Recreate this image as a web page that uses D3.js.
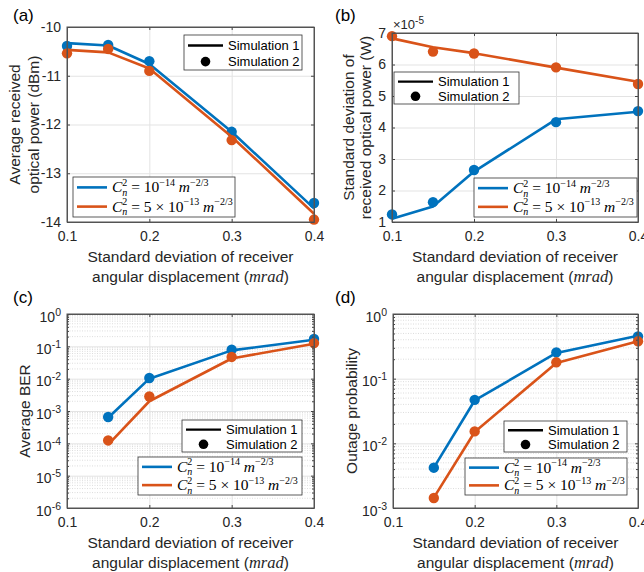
<!DOCTYPE html>
<html>
<head>
<meta charset="utf-8">
<script src="https://cdn.jsdelivr.net/npm/d3@7"></script>
<style>
    body { margin: 0; background: #fff; }
    svg { display: block; }
    .tick text { font-family: "Liberation Sans", Arial, sans-serif; font-size: 14px; fill: #262626; }
    .lbl { font-family: "Liberation Sans", Arial, sans-serif; fill: #262626; }
</style>
</head>
<body>
<svg id="fig" width="644" height="572"></svg>
<script>
// x values: standard deviation of receiver angular displacement (mrad)
const displacement = [0.1, 0.15, 0.2, 0.3, 0.4];
const displacementLog = [0.15, 0.2, 0.3, 0.4];
const xTickValues = [0.1, 0.2, 0.3, 0.4];

// (a) average received optical power (dBm)
const powerWeakSim1 = [-10.33, -10.38, -10.76, -12.15, -13.72];
const powerWeakSim2 = [-10.39, -10.37, -10.70, -12.15, -13.61];
const powerStrongSim1 = [-10.47, -10.52, -10.85, -12.25, -13.83];
const powerStrongSim2 = [-10.54, -10.45, -10.90, -12.32, -13.95];
const powerTicks = [-14, -13, -12, -11, -10];

// (b) standard deviation of received optical power (x1e-5 W)
const stdWeakSim1 = [1.10, 1.49, 2.60, 4.26, 4.50];
const stdWeakSim2 = [1.24, 1.63, 2.65, 4.17, 4.52];
const stdStrongSim1 = [6.83, 6.55, 6.36, 5.90, 5.45];
const stdStrongSim2 = [6.90, 6.41, 6.35, 5.91, 5.38];
const stdTicks = [1, 2, 3, 4, 5, 6, 7];

// (c) average BER
const berWeakSim1 = [6.2e-4, 1.0e-2, 7.5e-2, 0.16];
const berWeakSim2 = [6.5e-4, 1.05e-2, 7.9e-2, 0.17];
const berStrongSim1 = [9.1e-5, 2.0e-3, 4.2e-2, 0.12];
const berStrongSim2 = [1.23e-4, 2.8e-3, 4.7e-2, 0.126];
const berExponents = [-6, -5, -4, -3, -2, -1, 0];

// (d) outage probability
const outWeakSim1 = [4.2e-3, 4.6e-2, 0.25, 0.46];
const outWeakSim2 = [4.2e-3, 4.7e-2, 0.255, 0.45];
const outStrongSim1 = [1.45e-3, 1.5e-2, 0.175, 0.38];
const outStrongSim2 = [1.43e-3, 1.53e-2, 0.179, 0.378];
const outExponents = [-3, -2, -1, 0];

const colors = { weak: '#0072BD', strong: '#D95319' };
const sansFont = '"Liberation Sans", Arial, sans-serif';
const mathFont = '"Liberation Serif", "Times New Roman", serif';

const svg = d3.select("#fig");

// write a run of text pieces left to right; pieces with stack:true share x with the previous one
function mathText(g, x0, y0, parts) {
    let cursor = x0, lastStart = x0, lastEnd = x0;
    parts.forEach(p => {
        const start = p.stack ? lastStart : cursor;
        const t = g.append("text")
            .attr("x", start)
            .attr("y", y0 + (p.dy || 0))
            .style("font-family", mathFont)
            .style("font-size", (p.size || 15.5) + "px")
            .style("font-style", p.italic ? "italic" : "normal")
            .style("fill", "#000")
            .attr("xml:space", "preserve")
            .text(p.t);
        const w = t.node().getComputedTextLength();
        const end = start + w;
        if (p.stack) {
            cursor = Math.max(lastEnd, end);
        } else {
            lastStart = start;
            cursor = end;
        }
        lastEnd = cursor;
    });
}

function cnParts(prefix, exp) {
    return [
        { t: "C", italic: true },
        { t: "2", size: 10, dy: -6.5 },
        { t: "n", italic: true, size: 10, dy: 3.5, stack: true },
        { t: " = " + prefix + "10" },
        { t: exp, size: 10, dy: -6.5 },
        { t: " " },
        { t: "m", italic: true },
        { t: "\u22122/3", size: 10, dy: -6.5 }
    ];
}

function drawPanel(p) {
    const g = svg.append("g");
    const x = d3.scaleLinear().domain([0.1, 0.4]).range([p.l, p.r]);
    const y = (p.log ? d3.scaleLog() : d3.scaleLinear()).domain(p.yDomain).range([p.b, p.t]);
    const h = p.b - p.t, w = p.r - p.l;

    // minor grid (log panels)
    if (p.log) {
        const minor = y.ticks().filter(v => Math.abs(Math.log10(v) - Math.round(Math.log10(v))) > 1e-6);
        g.append("g").selectAll("line").data(minor).enter().append("line")
            .attr("x1", p.l).attr("x2", p.r)
            .attr("y1", d => y(d)).attr("y2", d => y(d))
            .attr("stroke", "#d4d4d4").attr("stroke-width", 0.8)
            .attr("stroke-dasharray", "1,1.5");
    }
    const majorY = p.log ? p.yTicks.map(e => Math.pow(10, e)) : p.yTicks;

    // major grid
    g.append("g")
        .attr("transform", `translate(0,${p.b})`)
        .call(d3.axisBottom(x).tickValues(xTickValues).tickSize(-h).tickFormat(""))
        .call(s => s.select(".domain").remove())
        .selectAll("line").attr("stroke", "#e3e3e3");
    g.append("g")
        .attr("transform", `translate(${p.l},0)`)
        .call(d3.axisLeft(y).tickValues(majorY).tickSize(-w).tickFormat(""))
        .call(s => s.select(".domain").remove())
        .selectAll("line").attr("stroke", "#e3e3e3");

    // data lines then markers
    p.series.forEach(s => {
        const line = d3.line().x((d, i) => x(s.x[i])).y(d => y(d));
        g.append("path")
            .datum(s.line)
            .attr("fill", "none")
            .attr("stroke", s.color)
            .attr("stroke-width", 2.6)
            .attr("stroke-linejoin", "round")
            .attr("d", line);
        g.append("g").selectAll("circle")
            .data(s.marks)
            .enter()
            .append("circle")
            .attr("cx", (d, i) => x(s.x[i]))
            .attr("cy", d => y(d))
            .attr("r", 5.2)
            .attr("fill", s.color);
    });

    // axes, ticks pointing inward on all four sides
    const tk = 3;
    const xb = g.append("g").attr("transform", `translate(0,${p.b})`)
        .call(d3.axisBottom(x).tickValues(xTickValues).tickSizeInner(-tk).tickSizeOuter(0).tickPadding(8)
            .tickFormat(d3.format(".1f")));
    xb.selectAll("text").attr("dy", "0.71em").attr("y", 9);
    g.append("g").attr("transform", `translate(0,${p.t})`)
        .call(d3.axisTop(x).tickValues(xTickValues).tickSizeInner(-tk).tickSizeOuter(0).tickFormat(""));

    const yAxisL = d3.axisLeft(y).tickValues(majorY).tickSizeInner(-tk).tickSizeOuter(0).tickPadding(6);
    const yAxisR = d3.axisRight(y).tickValues(majorY).tickSizeInner(-tk).tickSizeOuter(0).tickFormat("");
    if (p.log) yAxisL.tickFormat("");
    else yAxisL.tickFormat(d => String(d));
    const yl = g.append("g").attr("transform", `translate(${p.l},0)`).call(yAxisL);
    g.append("g").attr("transform", `translate(${p.r},0)`).call(yAxisR);

    if (p.log) {
        // minor ticks
        const minor = y.ticks().filter(v => Math.abs(Math.log10(v) - Math.round(Math.log10(v))) > 1e-6);
        g.append("g").attr("transform", `translate(${p.l},0)`)
            .call(d3.axisLeft(y).tickValues(minor).tickSizeInner(-2).tickSizeOuter(0).tickFormat(""))
            .call(s => s.select(".domain").remove());
        g.append("g").attr("transform", `translate(${p.r},0)`)
            .call(d3.axisRight(y).tickValues(minor).tickSizeInner(-2).tickSizeOuter(0).tickFormat(""))
            .call(s => s.select(".domain").remove());
        // 10^k labels
        yl.selectAll(".tick").each(function(d) {
            const t = d3.select(this).select("text")
                .attr("x", -6).attr("dy", "0.5em");
            t.append("tspan").text("10");
            t.append("tspan").attr("dy", "-0.55em").style("font-size", "10.5px")
                .text(String(Math.round(Math.log10(d))));
        });
    }

    g.selectAll(".domain").attr("stroke", "#555").attr("stroke-width", 1);
    g.selectAll(".tick line").filter(function() { return !this.getAttribute("stroke") || this.getAttribute("stroke") === "currentColor"; })
        .attr("stroke", "#444");

    // box outline
    g.append("rect")
        .attr("x", p.l).attr("y", p.t).attr("width", w).attr("height", h)
        .attr("fill", "none").attr("stroke", "#555").attr("stroke-width", 1);

    // x label (two lines)
    g.append("text").attr("class", "lbl")
        .attr("x", (p.l + p.r) / 2).attr("y", p.b + 40)
        .attr("text-anchor", "middle").style("font-size", "15.5px")
        .text("Standard deviation of receiver");
    const xl2 = g.append("text").attr("class", "lbl")
        .attr("x", (p.l + p.r) / 2).attr("y", p.b + 60)
        .attr("text-anchor", "middle").style("font-size", "15.5px");
    xl2.append("tspan").text("angular displacement (");
    xl2.append("tspan").style("font-family", mathFont).style("font-style", "italic").style("font-size", "16.5px").text("mrad");
    xl2.append("tspan").text(")");

    // y label
    p.yLabel.forEach((txt, i) => {
        g.append("text").attr("class", "lbl")
            .attr("transform", `translate(${p.yLabelX[i]},${(p.t + p.b) / 2}) rotate(-90)`)
            .attr("text-anchor", "middle").attr("dy", "0.35em")
            .style("font-size", "15.5px")
            .text(txt);
    });

    // panel tag
    svg.append("text").attr("class", "lbl")
        .attr("x", p.tag.x).attr("y", p.tag.y)
        .style("font-size", "17px").style("fill", "#000")
        .text(p.tag.t);

    // legend: simulation types
    const sl = p.simLegend;
    const sg = g.append("g").attr("transform", `translate(${sl.x},${sl.y})`);
    sg.append("rect").attr("width", sl.w).attr("height", sl.h)
        .attr("fill", "#fff").attr("stroke", "#333").attr("stroke-width", 0.8);
    const r1 = sl.h * 0.3, r2 = sl.h * 0.76;
    sg.append("line").attr("x1", 4).attr("x2", 39).attr("y1", r1).attr("y2", r1)
        .attr("stroke", "#000").attr("stroke-width", 2.4);
    sg.append("circle").attr("cx", 21.5).attr("cy", r2).attr("r", 4.8).attr("fill", "#000");
    ["Simulation 1", "Simulation 2"].forEach((t, i) => {
        sg.append("text").attr("class", "lbl")
            .attr("x", 44).attr("y", (i ? r2 : r1) + 4.6)
            .style("font-size", "13px").style("fill", "#000")
            .text(t);
    });

    // legend: turbulence strength
    const cl = p.cnLegend;
    const cg = g.append("g").attr("transform", `translate(${cl.x},${cl.y})`);
    cg.append("rect").attr("width", cl.w).attr("height", cl.h)
        .attr("fill", "#fff").attr("stroke", "#333").attr("stroke-width", 0.8);
    const c1 = cl.h * 0.26, c2 = cl.h * 0.74;
    cg.append("line").attr("x1", 4).attr("x2", 34).attr("y1", c1).attr("y2", c1)
        .attr("stroke", colors.weak).attr("stroke-width", 2.6);
    cg.append("line").attr("x1", 4).attr("x2", 34).attr("y1", c2).attr("y2", c2)
        .attr("stroke", colors.strong).attr("stroke-width", 2.6);
    mathText(cg, 39, c1 + 5, cnParts("", "\u221214"));
    mathText(cg, 39, c2 + 5, cnParts("5 \u00d7 ", "\u221213"));

    return { g, x, y };
}

function seriesSet(xs, w1, w2, s1, s2) {
    return [
        { x: xs, line: w1, marks: w2, color: colors.weak },
        { x: xs, line: s1, marks: s2, color: colors.strong }
    ];
}

drawPanel({
    l: 67, t: 27, r: 314, b: 222,
    yDomain: [-14, -10], yTicks: powerTicks,
    series: seriesSet(displacement, powerWeakSim1, powerWeakSim2, powerStrongSim1, powerStrongSim2),
    yLabel: ["Average received", "optical power (dBm)"], yLabelX: [15, 34],
    tag: { t: "(a)", x: 13, y: 21 },
    simLegend: { x: 184, y: 35, w: 118, h: 35 },
    cnLegend: { x: 73, y: 177, w: 162, h: 40 }
});

const pb = drawPanel({
    l: 392, t: 33, r: 638, b: 222,
    yDomain: [1, 7], yTicks: stdTicks,
    series: seriesSet(displacement, stdWeakSim1, stdWeakSim2, stdStrongSim1, stdStrongSim2),
    yLabel: ["Standard deviation of", "received optical power (W)"], yLabelX: [349, 366],
    tag: { t: "(b)", x: 335, y: 21 },
    simLegend: { x: 394, y: 72, w: 125, h: 32 },
    cnLegend: { x: 474, y: 178, w: 163, h: 39 }
});
// exponent multiplier above panel (b)
const mult = pb.g.append("text").attr("class", "lbl")
    .attr("x", 393).attr("y", 29).style("font-size", "13px");
mult.append("tspan").text("\u00d710");
mult.append("tspan").attr("dy", "-0.5em").style("font-size", "10px").text("-5");

drawPanel({
    l: 67, t: 314, r: 314, b: 508, log: true,
    yDomain: [1e-6, 1], yTicks: berExponents,
    series: seriesSet(displacementLog, berWeakSim1, berWeakSim2, berStrongSim1, berStrongSim2),
    yLabel: ["Average BER"], yLabelX: [25],
    tag: { t: "(c)", x: 13, y: 303 },
    simLegend: { x: 182, y: 420, w: 120, h: 32 },
    cnLegend: { x: 138, y: 457, w: 164, h: 38 }
});

drawPanel({
    l: 393, t: 314, r: 638, b: 508, log: true,
    yDomain: [1e-3, 1], yTicks: outExponents,
    series: seriesSet(displacementLog, outWeakSim1, outWeakSim2, outStrongSim1, outStrongSim2),
    yLabel: ["Outage probability"], yLabelX: [352],
    tag: { t: "(d)", x: 335, y: 303 },
    simLegend: { x: 504, y: 421, w: 123, h: 31 },
    cnLegend: { x: 465, y: 458, w: 162, h: 37 }
});
</script>
</body>
</html>
